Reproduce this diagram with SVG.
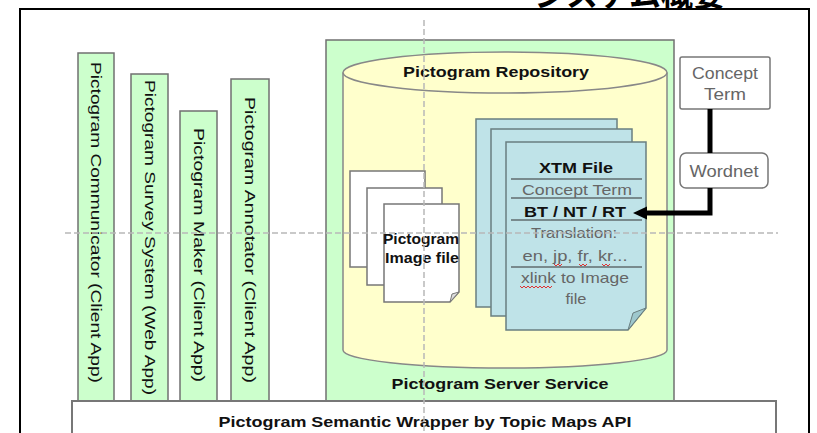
<svg xmlns="http://www.w3.org/2000/svg" width="817" height="433" viewBox="0 0 817 433">
<defs>
<style>
.app{fill:#ccffcc;stroke:#707070;stroke-width:1.5}
.vt{font-family:"Liberation Sans",Arial,sans-serif;font-size:14px;fill:#111}
.b{font-family:"Liberation Sans",Arial,sans-serif;font-weight:bold;fill:#111}
.g{font-family:"Liberation Sans",Arial,sans-serif;fill:#666}
.doc{fill:#bfe3e8;stroke:#6a7f80;stroke-width:1.5}
.img{fill:#ffffff;stroke:#777;stroke-width:1.5}
.sep{stroke:#333;stroke-width:1.2}
.box{fill:#ffffff;stroke:#777;stroke-width:1.5}
.dash{stroke:#b8b8b8;stroke-width:1.5;stroke-dasharray:6 3;fill:none}
.sq{stroke:#e03030;stroke-width:1;fill:none}
</style>
<marker id="ah" markerWidth="4" markerHeight="4" refX="0.5" refY="2" orient="auto" markerUnits="strokeWidth">
<path d="M0,2 L3.5,0 L3.5,4 Z" fill="#000"/>
</marker>
</defs>
<rect x="0" y="0" width="817" height="433" fill="#ffffff"/>
<text x="725" y="6" text-anchor="end" style="font-family:'Noto Sans CJK JP','Noto Sans CJK SC',sans-serif;font-weight:bold;font-size:32px;fill:#000">システム概要</text>
<rect x="20" y="9" width="789" height="440" fill="#ffffff" stroke="#000" stroke-width="2"/>

<g id="app-communicator">
<rect class="app" x="78" y="53" width="36" height="348"/>
<text class="vt" transform="translate(96,62) rotate(90)" x="0" y="5" textLength="321" lengthAdjust="spacingAndGlyphs">Pictogram Communicator (Client App)</text>
</g>
<g id="app-survey">
<rect class="app" x="131" y="74" width="37" height="327"/>
<text class="vt" transform="translate(149.5,80) rotate(90)" x="0" y="5" textLength="315" lengthAdjust="spacingAndGlyphs">Pictogram Survey System (Web App)</text>
</g>
<g id="app-maker">
<rect class="app" x="180" y="111" width="37" height="290"/>
<text class="vt" transform="translate(198.5,128) rotate(90)" x="0" y="5" textLength="254" lengthAdjust="spacingAndGlyphs">Pictogram Maker (Client App)</text>
</g>
<g id="app-annotator">
<rect class="app" x="231" y="79" width="38" height="322"/>
<text class="vt" transform="translate(250,97) rotate(90)" x="0" y="5" textLength="286" lengthAdjust="spacingAndGlyphs">Pictogram Annotator (Client App)</text>
</g>

<g id="server-service">
<rect x="326" y="40" width="348" height="361" fill="#ccffcc" stroke="#707070" stroke-width="1.5"/>
<text class="b" x="500" y="389" text-anchor="middle" font-size="15" textLength="217" lengthAdjust="spacingAndGlyphs">Pictogram Server Service</text>
</g>

<g id="repository">
<path d="M343,72.5 V350 A162,18 0 0 0 667,350 V72.5" fill="#ffffcc" stroke="#888" stroke-width="1.5"/>
<ellipse cx="505" cy="72.5" rx="162" ry="20.5" fill="#ffffcc" stroke="#888" stroke-width="1.5"/>
<text class="b" x="496" y="77" text-anchor="middle" font-size="15" textLength="186" lengthAdjust="spacingAndGlyphs">Pictogram Repository</text>
</g>

<g id="image-files">
<rect class="img" x="350" y="171" width="75" height="96"/>
<rect class="img" x="367" y="188" width="75" height="97"/>
<path class="img" d="M384,204 H459 V292 L450,302 H384 Z"/>
<path d="M459,292 L450,302 L452,294 Z" fill="#ddd" stroke="#777" stroke-width="1"/>
<text class="b" x="421" y="244" text-anchor="middle" font-size="14" textLength="76" lengthAdjust="spacingAndGlyphs">Pictogram</text>
<text class="b" x="422" y="263" text-anchor="middle" font-size="14" textLength="74" lengthAdjust="spacingAndGlyphs">Image file</text>
</g>

<g id="xtm-files">
<rect class="doc" x="476" y="119" width="141" height="188"/>
<rect class="doc" x="491" y="129" width="141" height="187"/>
<path class="doc" d="M506,142 H646 V308 L628,330 H506 Z"/>
<path d="M646,308 L628,330 L633,313 Z" fill="#9ec8cd" stroke="#6a7f80" stroke-width="1"/>
<line class="sep" x1="511" y1="179" x2="642" y2="179"/>
<line class="sep" x1="511" y1="198" x2="642" y2="198"/>
<line class="sep" x1="511" y1="220" x2="642" y2="220"/>
<line class="sep" x1="511" y1="267" x2="642" y2="267"/>
<text class="b" x="576" y="173" text-anchor="middle" font-size="14" textLength="74" lengthAdjust="spacingAndGlyphs">XTM File</text>
<text class="g" x="577" y="195" text-anchor="middle" font-size="15" textLength="110" lengthAdjust="spacingAndGlyphs">Concept Term</text>
<text class="b" x="575" y="217" text-anchor="middle" font-size="15" textLength="102" lengthAdjust="spacingAndGlyphs">BT / NT / RT</text>
<text class="g" x="574" y="238" text-anchor="middle" font-size="15" textLength="86" lengthAdjust="spacingAndGlyphs">Translation:</text>
<text class="g" x="575" y="261" text-anchor="middle" font-size="15" textLength="105" lengthAdjust="spacingAndGlyphs">en, jp, fr, kr...</text>
<text class="g" x="575" y="283" text-anchor="middle" font-size="15" textLength="108" lengthAdjust="spacingAndGlyphs">xlink to Image</text>
<text class="g" x="576" y="304" text-anchor="middle" font-size="15" textLength="21" lengthAdjust="spacingAndGlyphs">file</text>
<path class="sq" d="M554,264 l2,2 l2,-2 l2,2 l2,-2"/>
<path class="sq" d="M579,264 l2,2 l2,-2 l2,2 l2,-2"/>
<path class="sq" d="M602,264 l2,2 l2,-2 l2,2 l2,-2"/>
<path class="sq" d="M520,286 l2,2 l2,-2 l2,2 l2,-2 l2,2 l2,-2 l2,2 l2,-2 l2,2 l2,-2 l2,2 l2,-2 l2,2 l2,-2 l2,2 l2,-2"/>
</g>

<g id="concept-term">
<rect class="box" x="680" y="57" width="90" height="52" rx="2"/>
<text class="g" x="725" y="79" text-anchor="middle" font-size="17" textLength="66" lengthAdjust="spacingAndGlyphs">Concept</text>
<text class="g" x="725" y="100" text-anchor="middle" font-size="17" textLength="42" lengthAdjust="spacingAndGlyphs">Term</text>
</g>
<g id="wordnet">
<rect class="box" x="680" y="153" width="88" height="35" rx="6"/>
<text class="g" x="724" y="177" text-anchor="middle" font-size="17" textLength="69" lengthAdjust="spacingAndGlyphs">Wordnet</text>
</g>

<g id="connectors">
<line x1="710" y1="109" x2="710" y2="153" stroke="#000" stroke-width="5"/>
<polyline points="710,188 710,213 647,213" fill="none" stroke="#000" stroke-width="5"/>
<path d="M633,213 L647,206.5 L647,219.5 Z" fill="#000"/>
</g>

<g id="wrapper">
<rect x="72" y="401" width="704" height="40" fill="#ffffff" stroke="#777" stroke-width="2"/>
<text class="b" x="425" y="427" text-anchor="middle" font-size="15" textLength="413" lengthAdjust="spacingAndGlyphs">Pictogram Semantic Wrapper by Topic Maps API</text>
</g>

<line class="dash" x1="424" y1="20" x2="424" y2="433"/>
<line class="dash" x1="65" y1="233" x2="778" y2="233"/>
</svg>
